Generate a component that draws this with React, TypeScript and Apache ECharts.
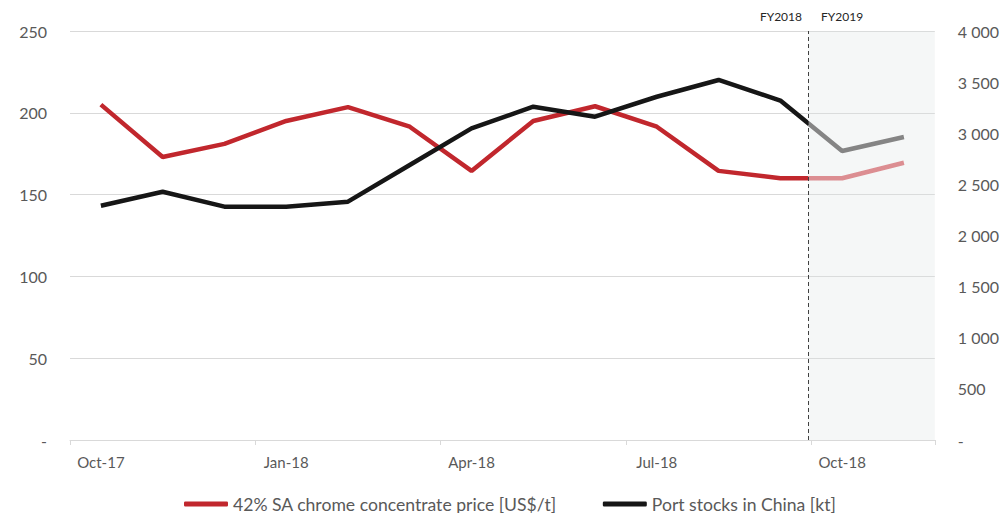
import React, { useEffect, useRef } from "react";
import * as echarts from "echarts";

const categories = [
  "Oct-17", "Nov-17", "Dec-17", "Jan-18", "Feb-18", "Mar-18", "Apr-18",
  "May-18", "Jun-18", "Jul-18", "Aug-18", "Sep-18", "Oct-18", "Nov-18",
];
const priceValues = [205, 173, 181, 195, 203.5, 191.5, 164.5, 195, 204, 191.5, 164.5, 160, 160, 169.5];
const stockValues = [2291, 2428, 2282, 2282, 2331, 2690, 3048, 3260, 3162, 3357, 3521, 3320, 2826, 2963];
const leftTicks = { min: 0, max: 250, interval: 50 };
const rightTicks = { min: 0, max: 4000, interval: 500 };
const priceName = "42% SA chrome concentrate price [US$/t]";
const stockName = "Port stocks in China [kt]";
const forecastStart = 11.95; // in category-band units (boundary Sep-18 / Oct-18)
const fyLabels = ["FY2018", "FY2019"];

const FONT = "Lato, 'Liberation Sans', sans-serif";
const LABEL_COLOR = "#595959";
const GRID_COLOR = "#d9d9d9";

export default function App() {
  const ref = useRef<HTMLDivElement>(null);
  useEffect(() => {
    document.body.style.margin = "0";
    if (!ref.current) return;
    const chart = echarts.init(ref.current, undefined, { renderer: "svg" });
    const fmtRight = (v: number) =>
      v === 0 ? "-" : String(v).replace(/\B(?=(\d{3})+(?!\d))/g, " ");
    // band-centre positions on the hidden value axis that mirrors the category axis
    const priceData = categories.map((_, i) => [i + 0.5, priceValues[i]]);
    const stockData = categories.map((_, i) => [i + 0.5, stockValues[i]]);
    chart.setOption({
      animation: false,
      textStyle: { fontFamily: FONT },
      grid: { left: 70, right: 67, top: 31, bottom: 73, containLabel: false },
      legend: {
        top: 493,
        left: 184,
        padding: 0,
        itemWidth: 44,
        itemHeight: 5,
        itemGap: 46,
        icon: "roundRect",
        textStyle: { fontSize: 17.6, lineHeight: 22, color: LABEL_COLOR, fontFamily: FONT },
        data: [
          { name: priceName, itemStyle: { color: "#c1272d" } },
          { name: stockName, itemStyle: { color: "#161616" } },
        ],
      },
      xAxis: [
        {
          type: "category",
          data: categories,
          boundaryGap: true,
          axisLine: { lineStyle: { color: GRID_COLOR, width: 1 } },
          axisTick: { show: true, interval: 2, length: 5, lineStyle: { color: GRID_COLOR } },
          axisLabel: { interval: 2, color: LABEL_COLOR, fontSize: 15, margin: 14, fontFamily: FONT },
          splitLine: { show: false },
        },
        { type: "value", min: 0, max: categories.length, show: false },
      ],
      yAxis: [
        {
          type: "value",
          ...leftTicks,
          axisLine: { show: false },
          axisTick: { show: false },
          axisLabel: {
            color: LABEL_COLOR,
            fontSize: 16,
            margin: 23,
            fontFamily: FONT,
            formatter: (v: number) => (v === 0 ? "-" : String(v)),
          },
          splitLine: { lineStyle: { color: GRID_COLOR, width: 1 } },
        },
        {
          type: "value",
          ...rightTicks,
          position: "right",
          axisLine: { show: false },
          axisTick: { show: false },
          axisLabel: { color: LABEL_COLOR, fontSize: 16, margin: 23, fontFamily: FONT, formatter: fmtRight },
          splitLine: { show: false },
        },
      ],
      visualMap: [
        {
          type: "piecewise",
          show: false,
          dimension: 0,
          seriesIndex: 1,
          pieces: [
            { gte: -1, lt: forecastStart, color: "#c1272d" },
            { gte: forecastStart, lte: 20, color: "#dc8e92" },
          ],
        },
        {
          type: "piecewise",
          show: false,
          dimension: 0,
          seriesIndex: 2,
          pieces: [
            { gte: -1, lt: forecastStart, color: "#161616" },
            { gte: forecastStart, lte: 20, color: "#858585" },
          ],
        },
      ],
      series: [
        {
          name: "helper",
          type: "line",
          xAxisIndex: 1,
          yAxisIndex: 0,
          data: [[forecastStart, 0]],
          symbol: "none",
          lineStyle: { opacity: 0 },
          silent: true,
          markArea: {
            silent: true,
            itemStyle: { color: "rgba(222,230,230,0.3)" },
            data: [[{ xAxis: forecastStart }, { xAxis: categories.length }]],
          },
          markLine: {
            silent: true,
            symbol: ["none", "none"],
            label: { show: false },
            lineStyle: { type: [4, 3], color: "#404040", width: 1 },
            data: [{ xAxis: forecastStart }],
          },
        },
        {
          name: priceName,
          type: "line",
          xAxisIndex: 1,
          yAxisIndex: 0,
          data: priceData,
          symbol: "none",
          lineStyle: { width: 4.5 },
          z: 3,
        },
        {
          name: stockName,
          type: "line",
          xAxisIndex: 1,
          yAxisIndex: 1,
          data: stockData,
          symbol: "none",
          lineStyle: { width: 4.5 },
          z: 4,
        },
      ],
      graphic: [
        {
          type: "text",
          right: 1002 - 802,
          top: 10,
          style: { text: fyLabels[0], fontSize: 12, fill: "#262626", fontFamily: FONT },
        },
        {
          type: "text",
          left: 821,
          top: 10,
          style: { text: fyLabels[1], fontSize: 12, fill: "#262626", fontFamily: FONT },
        },
      ],
    });
    return () => chart.dispose();
  }, []);
  return <div ref={ref} style={{ width: 1002, height: 513 }} />;
}
